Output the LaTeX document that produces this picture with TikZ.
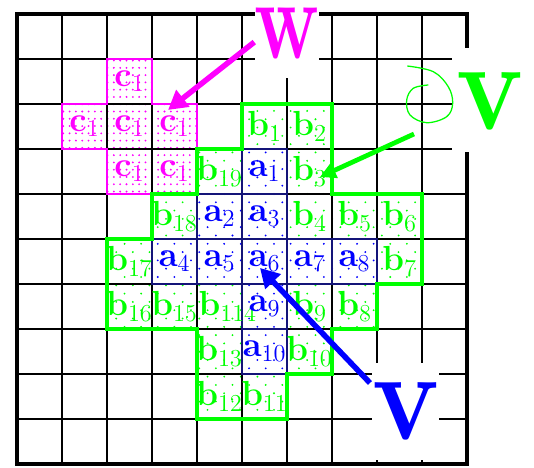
\RequirePackage{fix-cm}
\documentclass[tikz,border=0pt]{standalone}
\usetikzlibrary{patterns.meta,arrows.meta}
\definecolor{vgreen}{RGB}{0,255,0}
\definecolor{vmag}{RGB}{255,0,255}
\definecolor{vblue}{RGB}{0,0,255}
\definecolor{navy}{RGB}{20,20,120}
\pgfdeclarepattern{
  name=gdots, type=uncolored,
  bottom left={\pgfpoint{-1pt}{-1pt}}, top right={\pgfpoint{6pt}{6pt}},
  tile size={\pgfpoint{10.5pt}{10.5pt}},
  code={\pgfpathcircle{\pgfpoint{0pt}{0pt}}{0.65pt}\pgfpathcircle{\pgfpoint{5.25pt}{5.25pt}}{0.65pt}\pgfusepath{fill}}}
\pgfdeclarepattern{
  name=mdots, type=uncolored,
  bottom left={\pgfpoint{-1pt}{-1pt}}, top right={\pgfpoint{1pt}{1pt}},
  tile size={\pgfpoint{4pt}{4.6pt}},
  code={\pgfpathcircle{\pgfpoint{0pt}{0pt}}{0.65pt}\pgfusepath{fill}}}
\tikzset{
  gfill/.style={pattern=gdots, pattern color=vgreen},
  bfill/.style={pattern=gdots, pattern color=vblue},
  mfill/.style={pattern=mdots, pattern color=vmag},
  gridline/.style={line width=0.9pt, black},
  frameline/.style={line width=2.2pt, black},
  abox/.style={line width=0.9pt, navy},
  goutline/.style={line width=2pt, vgreen, line join=miter},
  moutline/.style={line width=1.2pt, vmag},
  lab/.style={inner sep=1pt, font=\fontsize{22}{26}\selectfont},
  bignode/.style={fill=white, inner ysep=0pt, anchor=base},
  marrow/.style={line width=3.5pt, vmag, -{Triangle[length=12pt,width=13pt]}},
  garrow/.style={line width=3pt, vgreen, -{Triangle[length=10pt,width=10pt]}},
  barrow/.style={line width=3.5pt, vblue, -{Triangle[length=12pt,width=13pt]}},
}
\begin{document}
\begin{tikzpicture}[x=1cm,y=1cm]
\useasboundingbox (-0.378,-0.089) rectangle (11.489,10.311);
% pattern fills
\foreach \c/\r in {5/2,6/2,4/3,6/3,3/4,6/4,7/4,8/4,2/5,8/5,2/6,3/6,4/6,6/6,7/6,4/7,6/7,4/8,5/8}
  \fill[gfill] (\c,{9-\r}) rectangle ++(1,1);
\foreach \c/\r in {5/3,4/4,5/4,3/5,4/5,5/5,6/5,7/5,5/6,5/7}
  \fill[bfill] (\c,{9-\r}) rectangle ++(1,1);
\foreach \c/\r in {2/1,1/2,2/2,3/2,2/3,3/3}
  \fill[mfill] (\c,{9-\r}) rectangle ++(1,1);
% grid
\draw[gridline] (0,0) grid (10,10);
\foreach \c/\r in {5/3,4/4,5/4,3/5,4/5,5/5,6/5,7/5,5/6,5/7}
  \draw[abox] (\c,{9-\r}) rectangle ++(1,1);
% outlines
\draw[moutline] (2,9) -- (3,9) -- (3,8) -- (4,8) -- (4,6) -- (2,6) -- (2,7) -- (1,7) -- (1,8) -- (2,8) -- cycle;
\draw[goutline] (5,8) -- (7,8) -- (7,6) -- (9,6) -- (9,4) -- (8,4) -- (8,3) -- (7,3) -- (7,2) -- (6,2) -- (6,1) -- (4,1) -- (4,3) -- (2,3) -- (2,5) -- (3,5) -- (3,6) -- (4,6) -- (4,7) -- (5,7) -- cycle;
\draw[frameline] (0,0) rectangle (10,10);
% labels
\foreach \n/\t/\c/\r in {1/1/5/2,2/2/6/2,3/3/6/3,4/4/6/4,5/5/7/4,6/6/8/4,7/7/8/5,8/8/7/6,9/9/6/6,10/10/6/7,11/11/5/8,12/12/4/8,13/13/4/7,15/15/3/6,16/16/2/6,17/17/2/5,18/18/3/4,19/19/4/3}
  \node[lab, text=vgreen] (b\n) at ({\c+0.5},{9.5-\r}) {$\mathbf{b}_{\t}$};
\node[lab, text=vgreen, anchor=west, inner xsep=0pt] (b14) at (4.03,3.5) {$\mathbf{b}_{114}$};
\foreach \n/\c/\r in {1/5/3,2/4/4,3/5/4,4/3/5,5/4/5,6/5/5,7/6/5,8/7/5,9/5/6,10/5/7}
  \node[lab, text=vblue] (a\n) at ({\c+0.5},{9.5-\r}) {$\mathbf{a}_{\n}$};
\foreach \n/\c/\r in {1/2/1,2/1/2,3/2/2,4/3/2,5/2/3,6/3/3}
  \node[lab, text=vmag] (c\n) at ({\c+0.5},{9.5-\r}) {$\mathbf{c}_{1}$};
% big letters
\node[bignode, inner xsep=0pt, text height=1.17cm, text depth=0.42cm, text=vmag] (W) at (6.0,9.0)
  {\scalebox{0.7}[1]{\fontsize{72}{72}\selectfont\bfseries w}};
\node[bignode, inner xsep=0.11cm, text height=1.822cm, text depth=0.489cm, text=vgreen] (Vg) at (10.511,7.422)
  {\scalebox{0.88}[1]{\fontsize{81}{81}\selectfont\bfseries v}};
\node[bignode, inner xsep=0pt, text height=1.711cm, text depth=0.444cm, text=vblue] (Vb) at (8.644,0.533)
  {\scalebox{0.88}[1]{\fontsize{81}{81}\selectfont\bfseries v}};
% spiral
\draw[vgreen, line width=0.8pt] plot[smooth, tension=0.6] coordinates {(8.673,8.844) (9.251,8.718) (9.584,8.384) (9.682,8.016) (9.549,7.718) (9.104,7.584) (8.733,7.756) (8.660,8.089) (8.807,8.349) (9.140,8.422)};
% arrows
\coordinate (ctip) at (3.356,7.867);
\coordinate (gstart) at (8.822,7.333);
\coordinate (gtip) at (6.733,6.378);
\coordinate (bstart) at (7.844,1.8);
\coordinate (btip) at (5.4,4.356);
\draw[marrow] (W.west) -- (ctip);
\draw[garrow] (gstart) -- (gtip);
\draw[barrow] (bstart) -- (btip);
\end{tikzpicture}
\end{document}
